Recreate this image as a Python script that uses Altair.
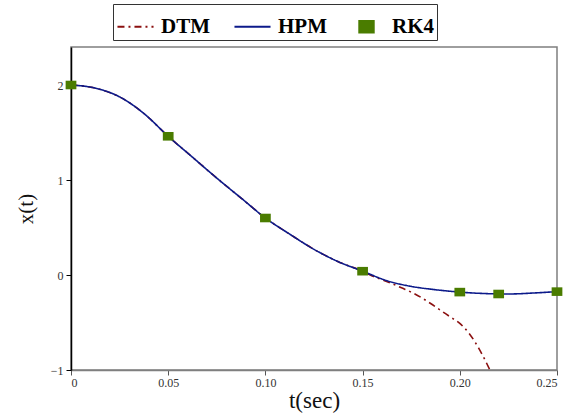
import altair as alt
import pandas as pd

# HPM solution
hpm_t = [0, 0.0125, 0.025, 0.0375, 0.05, 0.0625, 0.075, 0.0875, 0.1, 0.1125, 0.125,
         0.1375, 0.15, 0.1625, 0.175, 0.1875, 0.2, 0.2125, 0.225, 0.2375, 0.25]
hpm_x = [2.0, 1.967, 1.875, 1.70, 1.46, 1.24, 1.02, 0.81, 0.60, 0.43, 0.27,
         0.14, 0.04, -0.06, -0.12, -0.155, -0.18, -0.195, -0.20, -0.19, -0.175]

# DTM solution (diverges after t = 0.15)
dtm_t = [0, 0.0125, 0.025, 0.0375, 0.05, 0.0625, 0.075, 0.0875, 0.1, 0.1125, 0.125,
         0.1375, 0.15, 0.155, 0.16, 0.165, 0.17, 0.175, 0.18, 0.185, 0.19, 0.195,
         0.2, 0.205, 0.21, 0.2155]
dtm_x = [2.0, 1.967, 1.875, 1.70, 1.46, 1.24, 1.02, 0.81, 0.60, 0.43, 0.27,
         0.14, 0.04, -0.01, -0.05, -0.09, -0.135, -0.18, -0.235, -0.30, -0.37, -0.44,
         -0.51, -0.62, -0.78, -1.0]

# RK4 points
rk4_t = [0, 0.05, 0.10, 0.15, 0.20, 0.22, 0.25]
rk4_x = [2.0, 1.46, 0.60, 0.04, -0.18, -0.20, -0.175]

series = ["DTM", "HPM", "RK4"]
colors = ["#8b1010", "#0c1a8a", "#4a7c00"]
dashes = [[7, 4, 2, 4], [1, 0], [1, 0]]
line_path = "M-1,0L1,0"
square_path = "M-0.4,-0.32L0.4,-0.32L0.4,0.32L-0.4,0.32Z"
shapes = [line_path, line_path, square_path]

lines = pd.concat([
    pd.DataFrame({"t": dtm_t, "x": dtm_x, "series": "DTM"}),
    pd.DataFrame({"t": hpm_t, "x": hpm_x, "series": "HPM"}),
])
pts = pd.DataFrame({"t": rk4_t, "x": rk4_x, "series": "RK4"})

xscale = alt.Scale(domain=[0, 0.25], nice=False, zero=False)
yscale = alt.Scale(domain=[-1, 2.4], nice=False, zero=False)

xaxis = alt.Axis(values=[0, 0.05, 0.1, 0.15, 0.2, 0.25],
                 labelExpr="datum.value == 0 ? '0' : format(datum.value, '.2f')",
                 title="t(sec)", grid=False, domainColor="#7f7f7f", domainWidth=1.5,
                 tickColor="#555555", tickSize=5, labelFont="Liberation Serif",
                 labelFontSize=12, labelColor="#333333", titleFont="Liberation Serif",
                 titleFontSize=23, titleFontWeight="normal", titleColor="#111111",
                 titlePadding=1, labelPadding=2)
yaxis = alt.Axis(values=[-1, 0, 1, 2], format=".0f", title="x(t)", grid=False,
                 domainColor="#000000", domainWidth=1.5, tickColor="#000000", tickSize=5,
                 labelFont="Liberation Serif", labelFontSize=12, labelColor="#333333",
                 titleFont="Liberation Serif", titleFontSize=21, titleFontWeight="normal",
                 titleColor="#111111", titlePadding=14, labelPadding=3)

legend = alt.Legend(title=None, orient="none", legendX=42, legendY=-43,
                    direction="horizontal", symbolStrokeWidth=2, symbolSize=1300,
                    labelFont="Liberation Serif", labelFontSize=21,
                    labelFontWeight="bold", labelColor="#000000",
                    strokeColor="#333333", padding=3, columnPadding=20, labelOffset=6)

color_scale = alt.Scale(domain=series, range=colors)

line_layer = alt.Chart(lines).mark_line(strokeWidth=1.6, clip=True, interpolate="monotone").encode(
    x=alt.X("t:Q", scale=xscale, axis=xaxis),
    y=alt.Y("x:Q", scale=yscale, axis=yaxis),
    color=alt.Color("series:N", scale=color_scale, legend=legend),
    strokeDash=alt.StrokeDash("series:N", scale=alt.Scale(domain=series, range=dashes), legend=legend),
    order=alt.Order("t:Q"),
)

pt_layer = alt.Chart(pts).mark_point(filled=True, opacity=1, size=720).encode(
    x=alt.X("t:Q", scale=xscale),
    y=alt.Y("x:Q", scale=yscale),
    color=alt.Color("series:N", scale=color_scale, legend=legend),
    shape=alt.Shape("series:N", scale=alt.Scale(domain=series, range=shapes), legend=legend),
)

chart = alt.layer(line_layer, pt_layer).properties(
    width=486, height=323,
    autosize=alt.AutoSizeParams(type="none"),
    padding={"left": 71, "top": 47, "right": 17, "bottom": 44},
    background="white",
).configure_view(stroke="#7f7f7f", strokeWidth=1.5)

chart.save("out.html", embed_options={"renderer": "svg", "actions": False})
